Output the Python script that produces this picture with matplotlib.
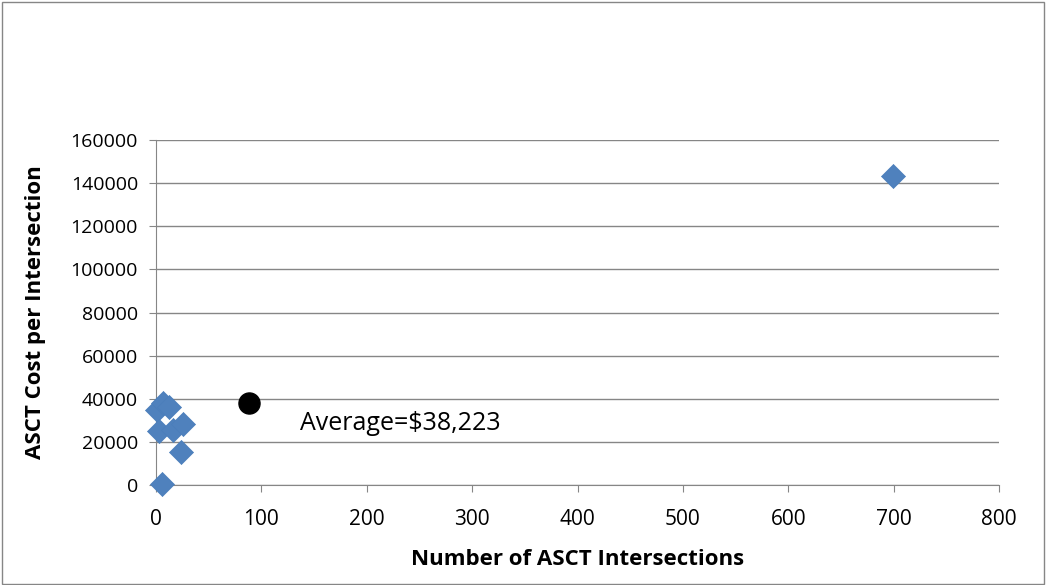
import matplotlib.pyplot as plt

plt.rcParams['font.family'] = ['Open Sans', 'DejaVu Sans']

# data
intersections = [1, 7, 12, 3, 16, 26, 24, 6, 699]
cost = [35000, 38000, 36000, 25200, 25500, 28500, 15400, 400, 143200]
avg_x = 88
avg_cost = 38223
avg_label = "Average=$38,223"

fig = plt.figure(figsize=(10.46, 5.85), dpi=100)
ax = fig.add_axes([156 / 1046, 100 / 585, 843 / 1046, 345 / 585])

ax.scatter(intersections, cost, marker='D', s=150, color='#4f81bd',
           edgecolors='#4a7ebb', linewidths=0.5, zorder=3, clip_on=False)
ax.scatter([avg_x], [avg_cost], marker='o', s=230, color='black', zorder=4)
ax.text(137, 28500, avg_label, fontsize=18, va='center', ha='left')

ax.set_xlim(0, 800)
ax.set_ylim(0, 160000)
ax.set_xticks(range(0, 801, 100))
ax.set_yticks(range(0, 160001, 20000))
ax.grid(axis='y', color='#868686', linewidth=1)
ax.set_axisbelow(True)
for side in ['top', 'right']:
    ax.spines[side].set_visible(False)
ax.spines['left'].set_color('#868686')
ax.spines['bottom'].set_color('#868686')
ax.tick_params(direction='out', length=5, color='#868686', labelsize=15)
ax.tick_params(axis='x', pad=12)
ax.tick_params(axis='y', pad=8, labelsize=14)
ax.set_xlabel("Number of ASCT Intersections", fontsize=16, fontweight='bold', labelpad=14)
ax.set_ylabel("ASCT Cost per Intersection", fontsize=16, fontweight='bold', labelpad=18)

fig.patches.append(plt.Rectangle((0.002, 0.002), 0.996, 0.995, transform=fig.transFigure,
                                 fill=False, edgecolor='#868686', linewidth=1))

fig.savefig("out.png", dpi=100)
